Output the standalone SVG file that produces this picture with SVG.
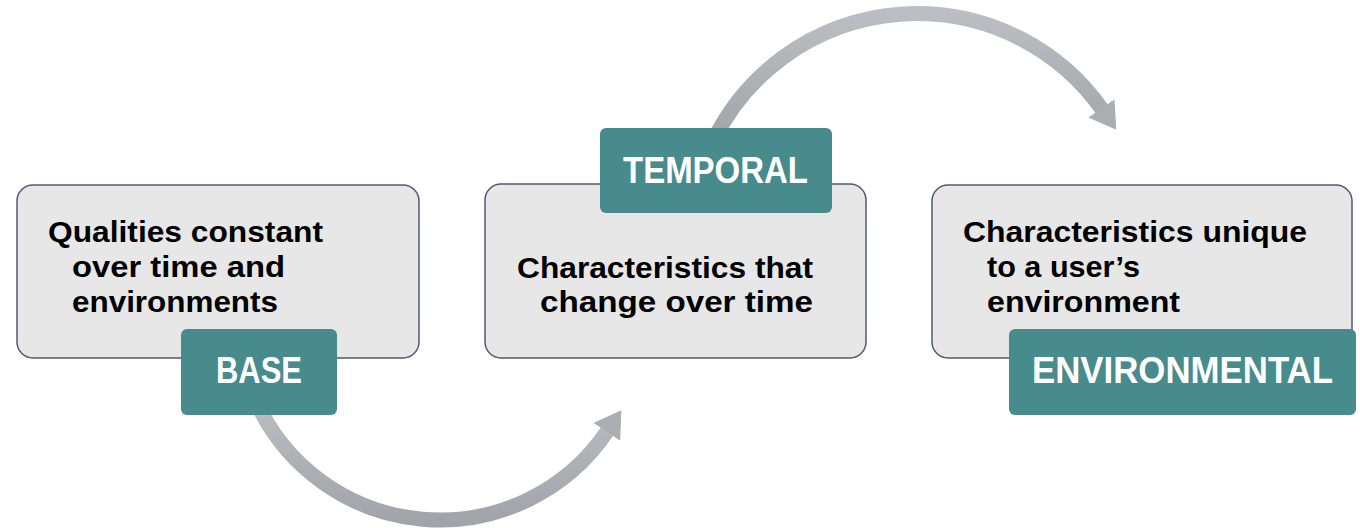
<svg xmlns="http://www.w3.org/2000/svg" width="1360" height="528" viewBox="0 0 1360 528">
  <style>
    .box { fill: #e7e7e7; stroke: #4d5b72; stroke-width: 1.5; }
    .tag { fill: #478b8d; }
    .body { font-family: "Liberation Sans", Arial, sans-serif; font-weight: bold; font-size: 29px; fill: #000; }
    .tagtxt { font-family: "Liberation Sans", Arial, sans-serif; font-weight: bold; font-size: 36px; fill: #fff; }
    .arc { fill: none; stroke: url(#arcGrad); stroke-width: 15; }
  </style>
  <defs>
    <linearGradient id="arcGrad" x1="0" y1="0" x2="0" y2="1">
      <stop offset="0" stop-color="#bcbec4"/>
      <stop offset="1" stop-color="#a2a4aa"/>
    </linearGradient>
    <marker id="head" markerUnits="userSpaceOnUse" viewBox="0 0 26 32" markerWidth="26" markerHeight="32" refX="2" refY="16" orient="auto">
      <path d="M0,0 L26,16 L0,32 Z" fill="#abadb3"/>
    </marker>
  </defs>

  <g id="connectors">
    <path class="arc" d="M255,399 A202,202 0 0 0 608,430.2" marker-end="url(#head)"/>
    <path class="arc" d="M714,139.5 A226.6,226.6 0 0 1 1102.5,110" marker-end="url(#head)"/>
  </g>

  <g id="node-base">
    <rect class="box" x="17" y="185" width="402" height="173" rx="16"/>
    <text class="body" x="48" y="242" textLength="275" lengthAdjust="spacingAndGlyphs">Qualities constant</text>
    <text class="body" x="72" y="277" textLength="213" lengthAdjust="spacingAndGlyphs">over time and</text>
    <text class="body" x="72" y="312" textLength="206" lengthAdjust="spacingAndGlyphs">environments</text>
    <rect class="tag" x="181" y="329" width="156" height="86" rx="6"/>
    <text class="tagtxt" x="216" y="383" textLength="86" lengthAdjust="spacingAndGlyphs">BASE</text>
  </g>

  <g id="node-temporal">
    <rect class="box" x="485" y="184" width="381" height="174" rx="16"/>
    <text class="body" x="517" y="278" textLength="296" lengthAdjust="spacingAndGlyphs">Characteristics that</text>
    <text class="body" x="540" y="312" textLength="273" lengthAdjust="spacingAndGlyphs">change over time</text>
    <rect class="tag" x="600" y="128" width="232" height="85" rx="6"/>
    <text class="tagtxt" x="623" y="183" textLength="185" lengthAdjust="spacingAndGlyphs">TEMPORAL</text>
  </g>

  <g id="node-environmental">
    <rect class="box" x="932" y="185" width="420" height="173" rx="16"/>
    <text class="body" x="963" y="242" textLength="344" lengthAdjust="spacingAndGlyphs">Characteristics unique</text>
    <text class="body" x="987" y="277" textLength="153" lengthAdjust="spacingAndGlyphs">to a user’s</text>
    <text class="body" x="987" y="312" textLength="193" lengthAdjust="spacingAndGlyphs">environment</text>
    <rect class="tag" x="1009" y="329" width="347" height="86" rx="6"/>
    <text class="tagtxt" x="1032" y="383" textLength="301" lengthAdjust="spacingAndGlyphs">ENVIRONMENTAL</text>
  </g>
</svg>
